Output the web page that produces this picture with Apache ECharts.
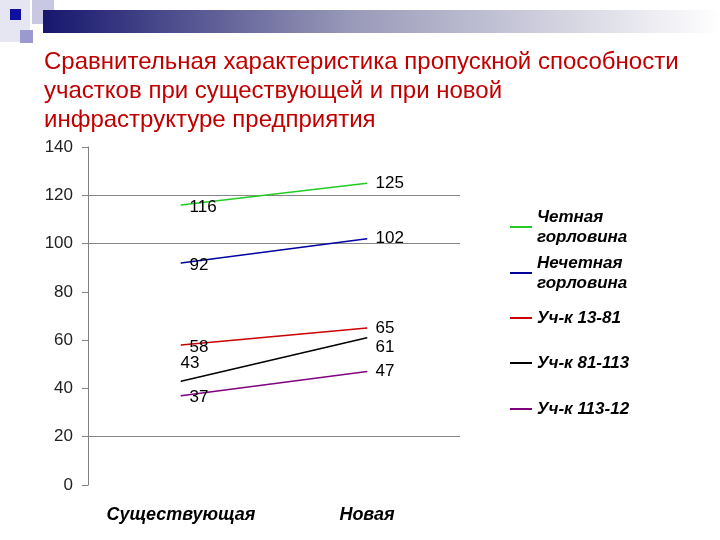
<!DOCTYPE html>
<html>
<head>
<meta charset="utf-8">
<script src="https://cdn.jsdelivr.net/npm/echarts@6/dist/echarts.min.js"></script>
<style>
  html, body { margin: 0; padding: 0; background: #fff; }
  #chart { width: 720px; height: 540px; }
</style>
</head>
<body>
<div id="chart"></div>
<script>
// данные
var categories = ['Существующая', 'Новая'];
var seriesNames = ['Четная горловина', 'Нечетная горловина', 'Уч-к 13-81', 'Уч-к 81-113', 'Уч-к 113-12'];
var chetnaya = [116, 125];
var nechetnaya = [92, 102];
var uch13_81 = [58, 65];
var uch81_113 = [43, 61];
var uch113_12 = [37, 47];
var yTicks = [0, 20, 40, 60, 80, 100, 120, 140];

var colors = ['#22cc22', '#0000a0', '#cc0000', '#000000', '#800080'];
var values = [chetnaya, nechetnaya, uch13_81, uch81_113, uch113_12];
var legendTops = [197, 243, 308, 353, 399];
var fontFamily = 'Arial, "Liberation Sans", sans-serif';

// подписи точек: по умолчанию справа, некоторые сдвинуты
function labelFor(si, di) {
  var lbl = { show: true, position: 'right', distance: 8, color: '#000', fontSize: 17, fontFamily: fontFamily };
  if (si == 3 && di == 0) { lbl.position = 'top'; lbl.offset = [9, -1]; }
  if (si == 3 && di == 1) { lbl.offset = [0, 10]; }
  if (di == 0 && si != 3) { lbl.offset = [0, 2]; }
  return lbl;
}

var series = seriesNames.map(function (name, si) {
  return {
    name: name,
    type: 'line',
    symbol: 'circle',
    symbolSize: 1,
    showSymbol: true,
    silent: true,
    lineStyle: { color: colors[si], width: 1.5 },
    itemStyle: { color: colors[si] },
    data: values[si].map(function (v, di) {
      return { value: v, label: labelFor(si, di) };
    })
  };
});

var legends = seriesNames.map(function (name, si) {
  var twoLines = name.indexOf('горловина') >= 0;
  return {
    orient: 'vertical',
    left: 510,
    top: legendTops[si],
    padding: 0,
    itemWidth: 22,
    itemHeight: 2,
    itemGap: 0,
    icon: 'rect',
    selectedMode: false,
    data: [name],
    formatter: function (n) { return n.replace(' горловина', '\nгорловина'); },
    textStyle: {
      fontFamily: fontFamily,
      fontSize: 17,
      fontWeight: 'bold',
      fontStyle: 'italic',
      color: '#000',
      lineHeight: 20,
      padding: twoLines ? [20, 0, 0, 0] : 0
    }
  };
});

// цвета линий сетки: видны только 20, 100, 120
var gridColors = yTicks.map(function (t) {
  return (t == 20 || t == 100 || t == 120) ? '#868686' : 'rgba(0,0,0,0)';
});

var chart = echarts.init(document.getElementById('chart'));
chart.setOption({
  backgroundColor: '#fff',
  animation: false,
  title: {
    text: 'Сравнительная характеристика пропускной способности\nучастков при существующей и при новой\nинфраструктуре предприятия',
    left: 44,
    top: 48,
    padding: 0,
    textStyle: { fontFamily: fontFamily, fontSize: 24, fontWeight: 'normal', color: '#c00000', lineHeight: 29 }
  },
  graphic: [
    { type: 'rect', shape: { x: 0, y: 0, width: 30, height: 42 }, style: { fill: '#e6e6f2' } },
    { type: 'rect', shape: { x: 32, y: 0, width: 22, height: 24 }, style: { fill: '#c8c8e2' } },
    { type: 'rect', shape: { x: 43, y: 10, width: 677, height: 23 },
      style: { fill: new echarts.graphic.LinearGradient(0, 0, 1, 0, [
        { offset: 0, color: '#16166e' },
        { offset: 0.45, color: '#9898b8' },
        { offset: 1, color: '#ffffff' }
      ]) } },
    { type: 'rect', shape: { x: 10, y: 9, width: 11, height: 11 }, style: { fill: '#1010a0' } },
    { type: 'rect', shape: { x: 20, y: 30, width: 13, height: 13 }, style: { fill: '#9a9ace' } }
  ],
  legend: legends,
  grid: { left: 88, right: 260, top: 147, bottom: 55 },
  xAxis: {
    type: 'category',
    data: categories,
    boundaryGap: true,
    axisLine: { show: false },
    axisTick: { show: false },
    axisLabel: {
      interval: 0,
      hideOverlap: false,
      margin: 21,
      color: '#000',
      fontFamily: fontFamily,
      fontSize: 18,
      fontWeight: 'bold',
      fontStyle: 'italic'
    }
  },
  yAxis: {
    type: 'value',
    min: 0,
    max: 140,
    interval: 20,
    axisLine: { show: true, lineStyle: { color: '#808080', width: 1 } },
    axisTick: { show: true, length: 6, lineStyle: { color: '#808080' } },
    axisLabel: { margin: 15, color: '#222', fontFamily: fontFamily, fontSize: 17 },
    splitLine: { show: true, lineStyle: { color: gridColors, width: 1 } }
  },
  series: series
});
</script>
</body>
</html>
